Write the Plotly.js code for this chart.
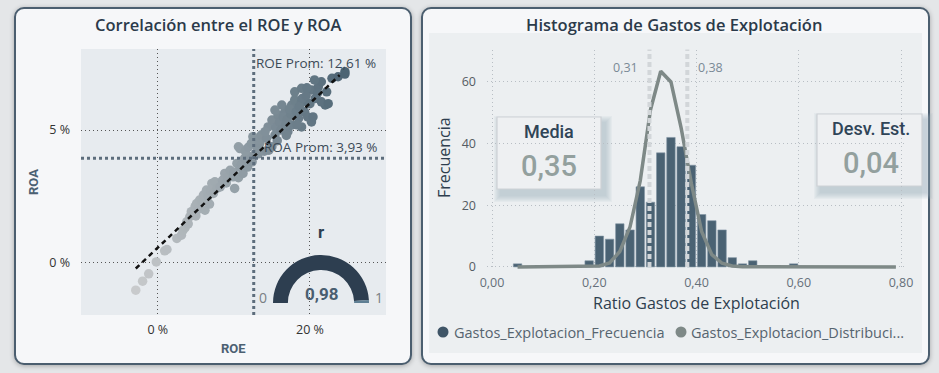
<!DOCTYPE html>
<html>
<head>
<meta charset="utf-8">
<script src="https://cdn.plot.ly/plotly-3.0.1.min.js"></script>
<style>
  html, body { margin:0; padding:0; background:#e4e6e8; width:939px; height:373px; overflow:hidden; }
  .card { position:absolute; box-sizing:border-box; border:2px solid #4b5e6f; border-radius:10px; background:#f6f7f9; box-shadow:0 1px 5px rgba(0,0,0,0.28); }
  #chart { position:absolute; left:0; top:0; width:939px; height:373px; }
</style>
</head>
<body>
<div class="card" style="left:14px; top:7px; width:398px; height:358px;"></div>
<div class="card" style="left:421px; top:7px; width:509px; height:358px;"></div>
<div id="chart"></div>
<script>
// ---------- DATA ----------
// Scatter: ROE (%) vs ROA (%)
const roe = [-2.9,-2.0,-1.2,-0.2,0.9,1.2,2.5,3.1,3.3,3.6,3.8,4.0,4.2,4.4,4.6,4.9,5.0,5.1,5.3,5.5,5.8,6.0,6.2,6.4,6.6,6.8,6.9,7.1,7.3,7.5,7.8,8.2,8.5,8.8,9.0,9.2,9.5,9.9,10.0,10.1,10.4,10.6,10.8,11.0,11.2,11.4,11.8,12.1,12.4,12.8,13.0,13.4,
  10.6,10.8,11.5,11.9,12.3,12.5,13.2,13.6,14.0,14.6,15.0,13.2,
  14.5,15.0,15.8,16.7,17.6,16.3,18.0,18.9,19.8,19.3,20.7,22.0,21.5,20.2,18.5,18.0,20.2,18.9,21.1,21.5,22.9,23.7,24.6,24.6,22.2,15.4,14.3,17.1,17.6,18.9,15.4,14.1,15.5,16.0,16.5,17.0,17.5,16.2,16.8,17.3,18.2,18.6,19.0,19.5,20.0,19.7,18.3,15.7,16.9,20.4,22.4,21.0,19.6,20.6];
const roa = [-1.06,-0.72,-0.44,0.01,0.43,0.48,0.90,1.02,1.20,1.31,1.53,1.45,1.72,1.91,1.80,2.10,1.75,2.22,2.00,2.35,2.30,2.54,1.97,2.73,2.50,2.20,2.70,2.98,2.60,3.04,2.80,2.85,3.10,3.36,3.00,3.20,3.48,3.23,3.40,2.79,3.74,3.20,3.61,3.70,3.36,3.93,3.60,3.99,3.80,4.10,4.37,4.50,
  4.37,4.30,4.20,4.35,4.50,4.75,4.62,4.81,4.20,4.24,4.37,4.10,
  5.12,5.38,5.57,5.69,5.95,5.95,6.14,6.07,6.01,5.69,6.20,5.95,6.07,5.31,5.44,6.45,6.52,6.58,6.64,6.83,6.96,7.02,7.21,7.12,6.45,4.81,4.69,4.94,5.19,5.12,5.76,4.94,5.10,5.30,5.50,5.40,5.60,5.00,5.20,5.80,5.70,5.90,6.20,6.30,6.00,5.50,5.20,4.60,4.80,5.50,6.00,6.40,6.60,6.90];
const trendRoe = [-2.9, 23.9];
const trendRoa = [-0.24, 7.08];
const meanRoe = 12.61;
const meanRoa = 3.93;
const corrR = 0.98;
const roeTicks = [0, 20];
const roaTicks = [0, 5];

// Histogram: ratio gastos de explotación
const binCenters = [0.05,0.19,0.21,0.23,0.25,0.27,0.29,0.31,0.33,0.35,0.37,0.39,0.41,0.43,0.45,0.47,0.49,0.51,0.59];
const binCounts  = [1,2,10,9,14,12,26,21,37,42,39,33,17,15,12,3,1,2,1];
const distX = [0.05,0.19,0.21,0.23,0.25,0.27,0.29,0.31,0.33,0.35,0.37,0.39,0.41,0.43,0.45,0.47,0.49,0.79];
const distY = [0,0.1,0.3,1.3,5,13,28,51,63.5,60,45,27,11.5,4,1.2,0.3,0.05,0];
const histMean = 0.35;
const histStd = 0.04;
const bandLines = [0.308, 0.382];
const bandLabels = ['0,31', '0,38'];
const ratioTicks = [0, 0.2, 0.4, 0.6, 0.8];
const freqTicks = [0, 20, 40, 60];

// ---------- HELPERS ----------
const W = 939, H = 373;
const px = x => x / W;
const py = y => 1 - y / H;
const fmt = (v, d) => v.toFixed(d).replace('.', ',');
const FONT = 'Open Sans, Noto Sans, sans-serif';
const DIN = 'Roboto, Noto Sans, sans-serif';

// ---------- TRACES ----------
const traces = [
  {
    type: 'scatter', mode: 'markers', x: roe, y: roa, xaxis: 'x', yaxis: 'y',
    marker: { size: 9.5, color: roe, cmin: -3, cmax: 25,
      colorscale: [[0, '#c8cacc'], [0.45, '#98a3aa'], [1, '#4a6272']], line: { width: 0 } },
    hoverinfo: 'skip'
  },
  {
    type: 'scatter', mode: 'lines', x: trendRoe, y: trendRoa, xaxis: 'x', yaxis: 'y',
    line: { color: '#111111', width: 2.5, dash: '5px,4px' }, hoverinfo: 'skip'
  },
  {
    type: 'bar', x: binCenters, y: binCounts, xaxis: 'x2', yaxis: 'y2', width: 0.0165,
    marker: { color: '#4a6273', line: { color: '#8194a2', width: 0.6 } },
    name: 'Gastos_Explotacion_Frecuencia', hoverinfo: 'skip'
  },
  {
    type: 'scatter', mode: 'lines', x: distX, y: distY, xaxis: 'x2', yaxis: 'y2',
    line: { color: '#7e8987', width: 3.5 }, name: 'Gastos_Explotacion_Distribucion', hoverinfo: 'skip'
  },
  {
    type: 'pie', values: [corrR, 1 - corrR, 1], sort: false, direction: 'clockwise', rotation: -90,
    hole: 0.69, textinfo: 'none', hoverinfo: 'skip',
    marker: { colors: ['#2d3e50', '#5f7f94', 'rgba(0,0,0,0)'], line: { width: 0 } },
    domain: { x: [px(273), px(369)], y: [py(351), py(255)] }, showlegend: false
  }
];

// ---------- SHAPES ----------
const shapes = [
  { type: 'rect', xref: 'paper', yref: 'paper', x0: px(81), x1: px(386), y0: py(315), y1: py(49), fillcolor: '#e7ebef', line: { width: 0 }, layer: 'below' },
  { type: 'rect', xref: 'paper', yref: 'paper', x0: px(429), x1: px(922), y0: py(353), y1: py(33), fillcolor: '#eceff1', line: { width: 0 }, layer: 'below' },
];
function boxWithShadow(x0, y0, x1, y1) {
  const s = [];
  for (let i = 7; i >= 1; i--) {
    s.push({ type: 'rect', xref: 'paper', yref: 'paper', x0: px(x0 - i + 4), x1: px(x1 + i + 4), y0: py(y1 + i + 6), y1: py(y0 - i + 6),
      fillcolor: 'rgba(160,178,192,0.09)', line: { width: 0 }, layer: 'below' });
  }
  s.push({ type: 'rect', xref: 'paper', yref: 'paper', x0: px(x0), x1: px(x1), y0: py(y1), y1: py(y0),
    fillcolor: '#eef0f2', line: { color: '#cdd1d5', width: 1.2 }, layer: 'below' });
  return s;
}
shapes.push(...boxWithShadow(497, 117, 601, 189));
shapes.push(...boxWithShadow(817, 114, 922, 186));
shapes.push({ type: 'line', xref: 'x', yref: 'y domain', x0: meanRoe, x1: meanRoe, y0: 0, y1: 1, line: { color: '#5d6d7c', width: 3, dash: 'dot' }, layer: 'above' });
shapes.push({ type: 'line', xref: 'x domain', yref: 'y', x0: 0, x1: 1, y0: meanRoa, y1: meanRoa, line: { color: '#5d6d7c', width: 3, dash: 'dot' }, layer: 'above' });
bandLines.forEach(v => shapes.push({ type: 'line', xref: 'x2', yref: 'y2 domain', x0: v, x1: v, y0: 0.014, y1: 1, line: { color: '#d2d6d9', width: 4, dash: '5px,3px' }, layer: 'above' }));
shapes.push({ type: 'circle', xref: 'paper', yref: 'paper', x0: px(437.5), x1: px(448.5), y0: py(337.5), y1: py(326.5), fillcolor: '#3f5567', line: { width: 0 } });
shapes.push({ type: 'circle', xref: 'paper', yref: 'paper', x0: px(675.5), x1: px(686.5), y0: py(337.5), y1: py(326.5), fillcolor: '#7e8987', line: { width: 0 } });

// ---------- ANNOTATIONS ----------
const ann = [];
function t(text, x, y, opts) {
  ann.push(Object.assign({ text, x: px(x), y: py(y), xref: 'paper', yref: 'paper', showarrow: false, xanchor: 'center', yanchor: 'middle',
    font: { family: FONT, size: 13, color: '#333' } }, opts || {}));
}
t('Correlación entre el ROE y ROA', 218, 24, { font: { family: FONT, size: 16.5, color: '#2b3a4a', weight: 600 } });
t('Histograma de Gastos de Explotación', 674, 24, { font: { family: FONT, size: 16.5, color: '#2b3a4a', weight: 600 } });
t('ROA', 33, 182, { textangle: -90, font: { family: DIN, size: 13, color: '#4b6072', weight: 700 } });
t('ROE', 233, 348, { font: { family: DIN, size: 13, color: '#4b6072', weight: 700 } });
ann.push({ text: 'ROE Prom: ' + fmt(meanRoe, 2) + ' %', x: meanRoe, xref: 'x', y: py(63), yref: 'paper', xanchor: 'left', yanchor: 'middle', xshift: 0, showarrow: false,
  font: { family: FONT, size: 13.5, color: '#3c4a57' } });
ann.push({ text: 'ROA Prom: ' + fmt(meanRoa, 2) + ' %', x: px(380), xref: 'paper', y: meanRoa, yref: 'y', xanchor: 'right', yanchor: 'middle', yshift: 11, showarrow: false,
  font: { family: FONT, size: 13.5, color: '#3c4a57' } });
t('r', 321, 232, { font: { family: DIN, size: 17, color: '#2d3e50', weight: 700 } });
t(fmt(corrR, 2), 321, 294, { font: { family: DIN, size: 17, color: '#4a5e70', weight: 700 } });
t('0', 263, 297, { font: { family: FONT, size: 14, color: '#7a7f84' } });
t('1', 379, 297, { font: { family: FONT, size: 14, color: '#7a7f84' } });
t('Frecuencia', 444, 158, { textangle: -90, font: { family: FONT, size: 16, color: '#2e3e4e' } });
t('Ratio Gastos de Explotación', 696, 303, { font: { family: FONT, size: 16, color: '#2e3e4e' } });
ann.push({ text: bandLabels[0], x: bandLines[0], xref: 'x2', y: py(67), yref: 'paper', xanchor: 'right', yanchor: 'middle', xshift: -9, showarrow: false,
  font: { family: FONT, size: 12.5, color: '#7a8a96' } });
ann.push({ text: bandLabels[1], x: bandLines[1], xref: 'x2', y: py(67), yref: 'paper', xanchor: 'left', yanchor: 'middle', xshift: 9, showarrow: false,
  font: { family: FONT, size: 12.5, color: '#7a8a96' } });
t('Media', 549, 131, { font: { family: DIN, size: 18, color: '#2f4457', weight: 500 } });
t(fmt(histMean, 2), 549, 166, { font: { family: DIN, size: 29, color: '#93a09e', weight: 500 } });
t('Desv. Est.', 871, 128, { font: { family: DIN, size: 18, color: '#2f4457', weight: 500 } });
t(fmt(histStd, 2), 871, 163, { font: { family: DIN, size: 29, color: '#93a09e', weight: 500 } });
t('Gastos_Explotacion_Frecuencia', 452, 332, { xanchor: 'left', font: { family: FONT, size: 14.5, color: '#56646f' } });
t('Gastos_Explotacion_Distribuci...', 689, 332, { xanchor: 'left', font: { family: FONT, size: 14.5, color: '#56646f' } });

// ---------- LAYOUT ----------
const tickFont = { family: FONT, size: 12.5, color: '#333' };
const pct = v => v + ' %';
const layout = {
  width: W, height: H, margin: { l: 0, r: 0, t: 0, b: 0 },
  paper_bgcolor: 'rgba(0,0,0,0)', plot_bgcolor: 'rgba(0,0,0,0)',
  separators: ',.', showlegend: false,
  xaxis: { domain: [px(81), px(386)], range: [-10.1, 30], tickmode: 'array', tickvals: roeTicks, ticktext: roeTicks.map(pct), showgrid: true, gridcolor: '#555',
    griddash: '1px,3px', gridwidth: 1, zeroline: false, showline: false, tickfont: tickFont, ticklabelstandoff: 5, fixedrange: true },
  yaxis: { domain: [py(315), py(49)], range: [-2.0, 8.07], tickmode: 'array', tickvals: roaTicks, ticktext: roaTicks.map(pct), showgrid: true, gridcolor: '#555',
    griddash: '1px,3px', gridwidth: 1, zeroline: false, showline: false, tickfont: tickFont, ticklabelstandoff: 10, fixedrange: true },
  xaxis2: { anchor: 'y2', domain: [px(487), px(905)], range: [-0.0098, 0.8078], tickvals: ratioTicks, tickformat: '.2f', showgrid: true,
    gridcolor: '#b8bec4', griddash: '1px,3px', gridwidth: 1, zeroline: false, showline: false,
    tickfont: { family: FONT, size: 12.5, color: '#66707a' }, ticklabelstandoff: 3, fixedrange: true },
  yaxis2: { anchor: 'x2', domain: [py(270), py(49.6)], range: [-1, 70.5], tickvals: freqTicks, showgrid: true,
    gridcolor: '#b8bec4', griddash: '1px,3px', gridwidth: 1, zeroline: false, showline: false,
    tickfont: { family: FONT, size: 12.5, color: '#555c63' }, ticklabelstandoff: 10, fixedrange: true },
  shapes: shapes,
  annotations: ann
};

Plotly.newPlot('chart', traces, layout, { staticPlot: true, displayModeBar: false });
</script>
</body>
</html>
